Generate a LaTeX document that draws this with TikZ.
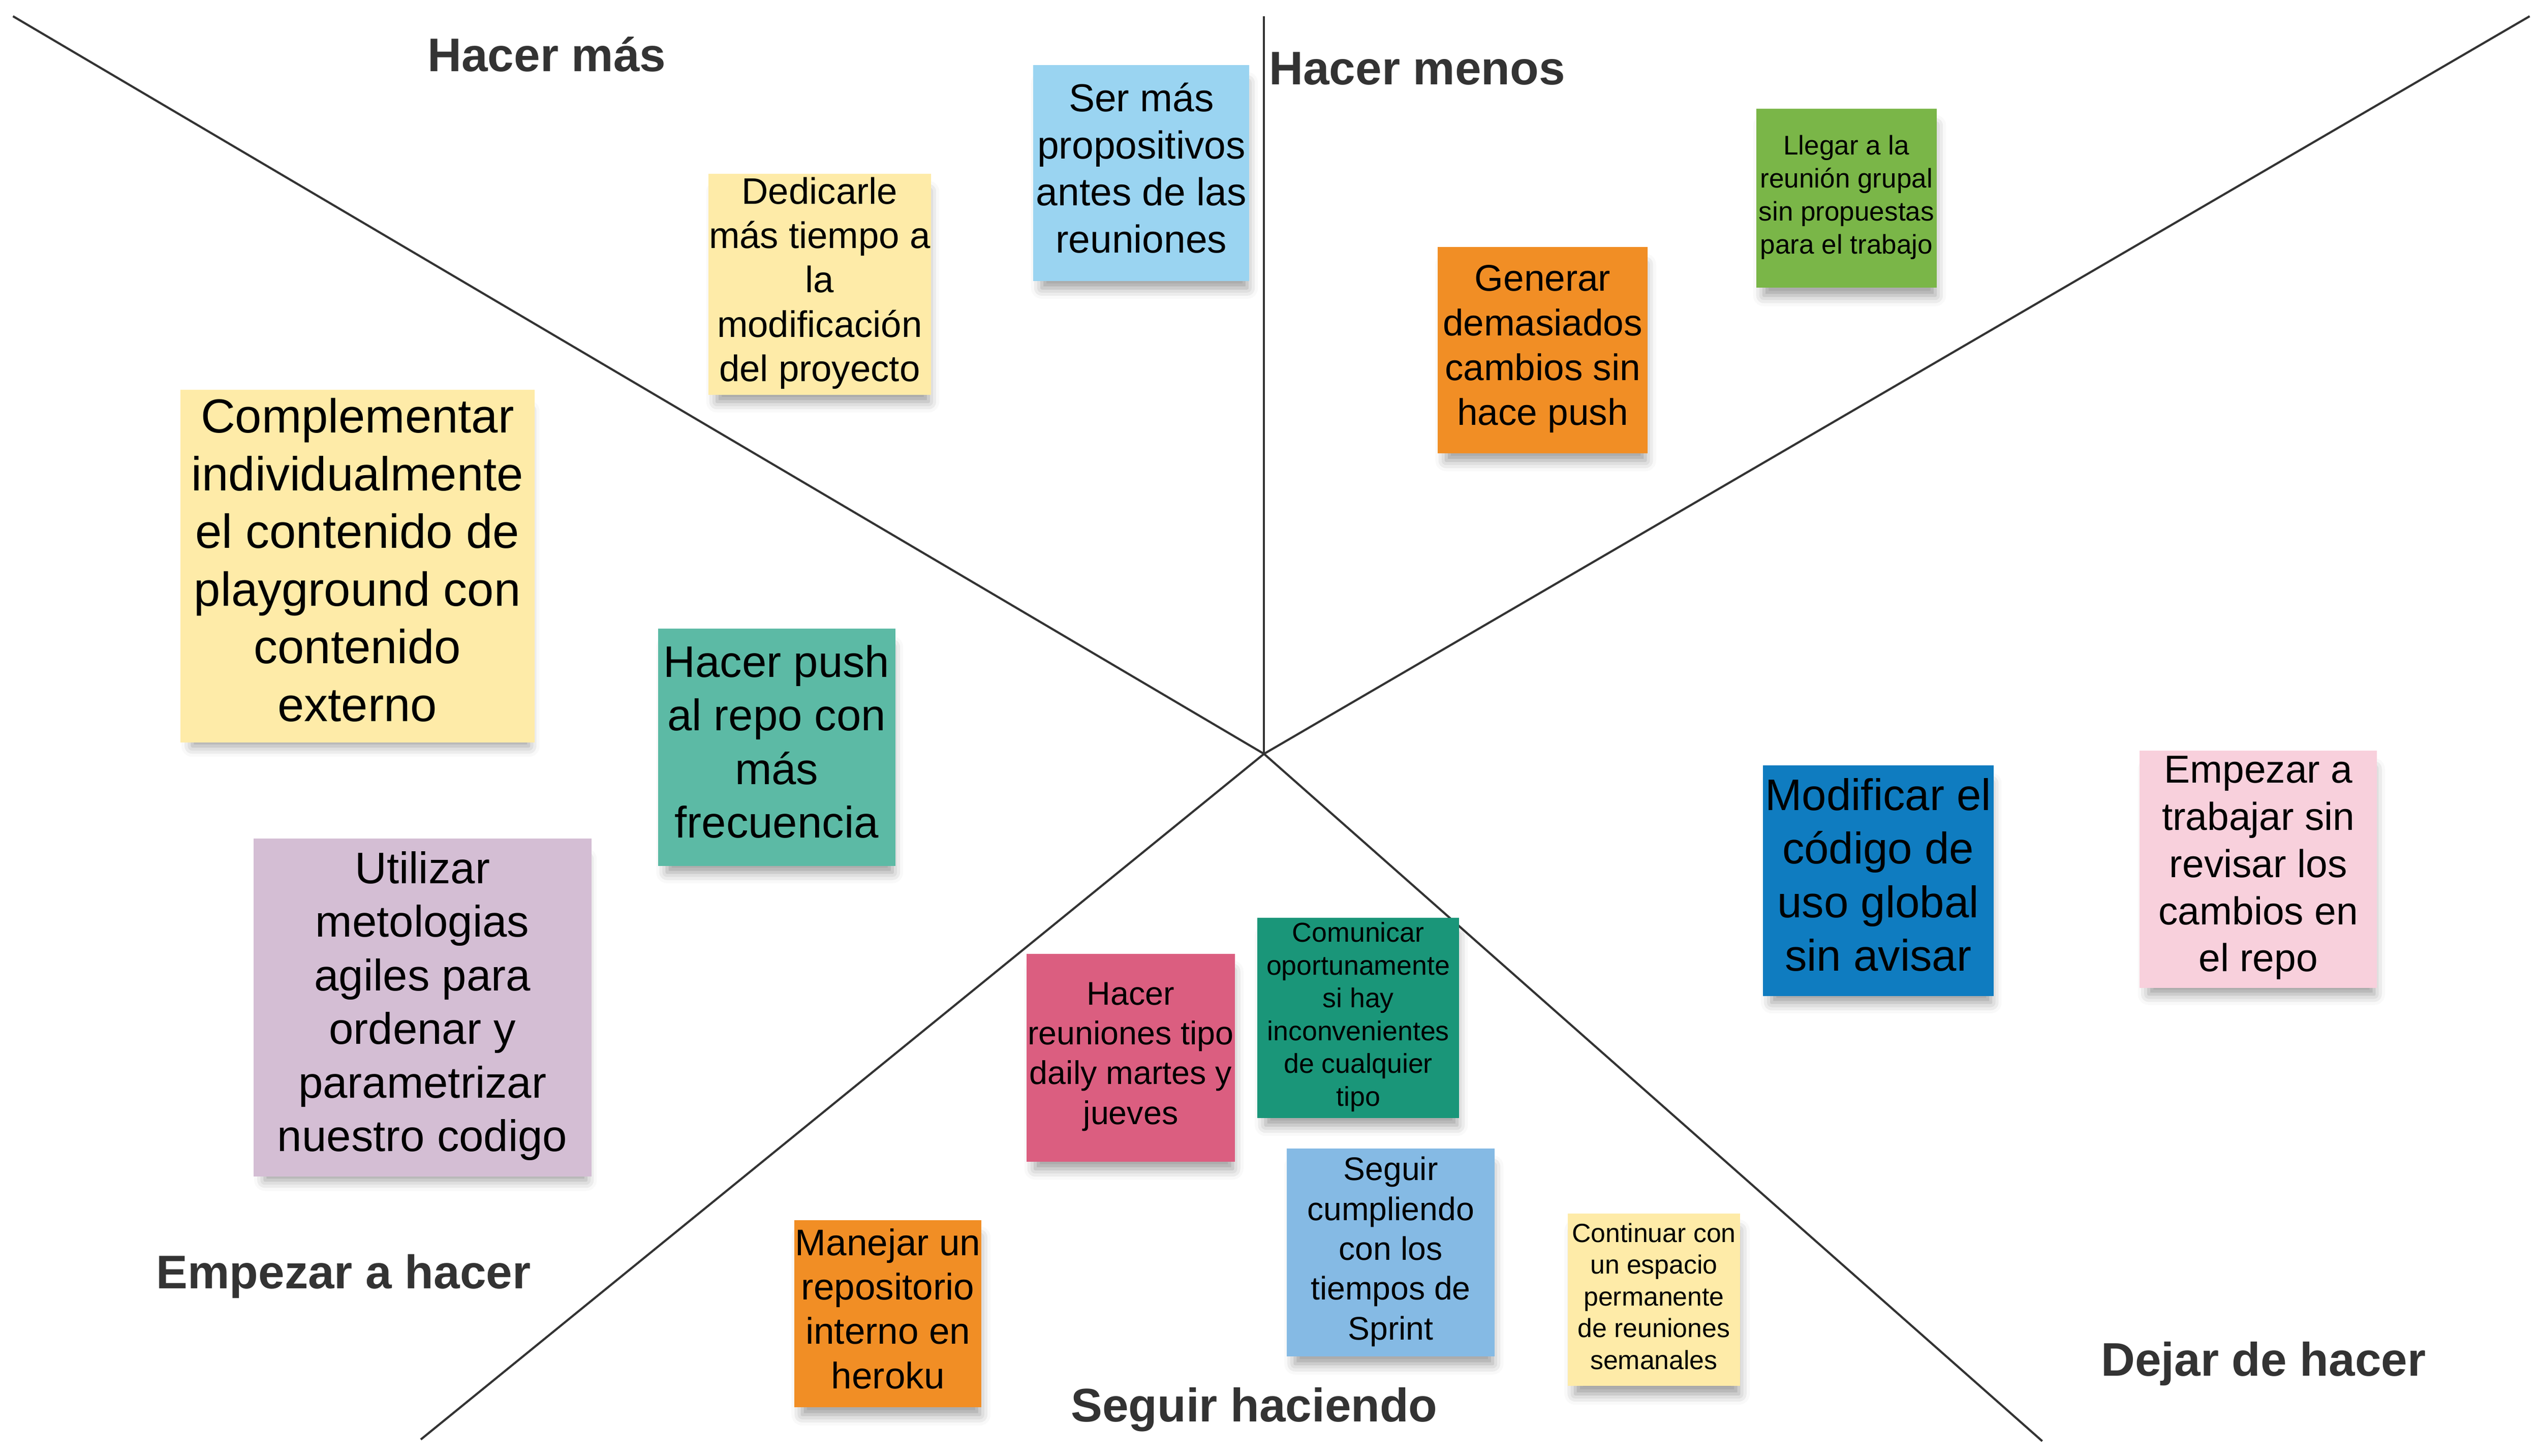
\documentclass[tikz,border=0pt]{standalone}
\usepackage{fontspec}
\setmainfont{Liberation Sans}
\usepackage{xcolor}
\usepackage{tikz}
\usetikzlibrary{shadows.blur, positioning}

\definecolor{noteyellow}{HTML}{FEEBA8}
\definecolor{noteblue}{HTML}{9AD4F1}
\definecolor{noteorange}{HTML}{F18E25}
\definecolor{notegreen}{HTML}{7AB648}
\definecolor{noteteal}{HTML}{5CBAA5}
\definecolor{notelilac}{HTML}{D4BED4}
\definecolor{notedeepblue}{HTML}{0F7CC0}
\definecolor{notepink}{HTML}{F8D0DC}
\definecolor{noterose}{HTML}{DB5E80}
\definecolor{notedeepgreen}{HTML}{1A9679}
\definecolor{notesky}{HTML}{85BAE4}
\definecolor{titlegray}{HTML}{333333}

\begin{document}
\begin{tikzpicture}[
    x=1pt, y=-1pt,
    note/.style={inner sep=0pt, align=center, text=black,
        execute at begin node={\rule{0pt}{0.75em}},
        execute at end node={\rule[-0.27em]{0pt}{0.27em}},
        blur shadow={shadow xshift=2pt, shadow yshift=-8pt, shadow scale=0.95,
                     shadow opacity=40, shadow blur radius=7pt}},
    quadtitle/.style={anchor=base west, inner sep=0pt, text=titlegray,
        font=\fontsize{29}{34}\selectfont\bfseries},
    divider/.style={draw=titlegray, line width=1.3pt}
]
    \useasboundingbox (0,0) rectangle (1564,896);

    % dividing lines
    \coordinate (center) at (778,464);
    \coordinate (top) at (778,10);
    \coordinate (topleft) at (8,10);
    \coordinate (topright) at (1557,10);
    \coordinate (botleft) at (259,886);
    \coordinate (botright) at (1257,887);
    \foreach \endpt in {top, topleft, topright, botleft, botright}
        \draw[divider] (center) -- (\endpt);

    % quadrant titles
    \node[quadtitle] (hacermas) at (263,44) {Hacer más};
    \node[quadtitle] (hacermenos) at (781,52) {Hacer menos};
    \node[quadtitle] (empezar) at (96,793) {Empezar a hacer};
    \node[quadtitle] (seguir) at (659,875) {Seguir haciendo};
    \node[quadtitle] (dejar) at (1293,847) {Dejar de hacer};

    % Hacer mas
    \node[note, fill=noteyellow, minimum width=137pt, minimum height=136pt,
          font=\fontsize{22.7}{27.3}\selectfont] (dedicarle) at (504.5,175)
          {Dedicarle\\más tiempo a\\la\\modificación\\del proyecto};
    \node[note, fill=noteblue, minimum width=133pt, minimum height=133pt,
          font=\fontsize{24}{29}\selectfont] (propositivos) at (702.5,106.5)
          {Ser más\\propositivos\\antes de las\\reuniones};

    % Hacer menos
    \node[note, fill=noteorange, minimum width=129pt, minimum height=127pt,
          font=\fontsize{22.8}{27.5}\selectfont] (generar) at (949.5,215.5)
          {Generar\\demasiados\\cambios sin\\hace push};
    \node[note, fill=notegreen, minimum width=111pt, minimum height=110pt,
          font=\fontsize{16.6}{20.3}\selectfont] (llegar) at (1136.5,122)
          {Llegar a la\\reunión grupal\\sin propuestas\\para el trabajo};

    % Empezar a hacer
    \node[note, fill=noteyellow, minimum width=218pt, minimum height=217pt,
          font=\fontsize{29.4}{35.5}\selectfont] (complementar) at (220,348.5)
          {Complementar\\individualmente\\el contenido de\\playground con\\contenido\\externo};
    \node[note, fill=noteteal, minimum width=146pt, minimum height=146pt,
          font=\fontsize{27.2}{33}\selectfont] (pushrepo) at (478,460)
          {Hacer push\\al repo con\\más\\frecuencia};
    \node[note, fill=notelilac, minimum width=208pt, minimum height=208pt,
          font=\fontsize{27.2}{33}\selectfont] (utilizar) at (260,620)
          {Utilizar\\metologias\\agiles para\\ordenar y\\parametrizar\\nuestro codigo};
    \node[note, fill=noteorange, minimum width=115pt, minimum height=115pt,
          font=\fontsize{22.8}{27.3}\selectfont] (heroku) at (546.5,808.5)
          {Manejar un\\repositorio\\interno en\\heroku};

    % Seguir haciendo
    \node[note, fill=noterose, minimum width=128pt, minimum height=128pt,
          font=\fontsize{20.2}{24.5}\selectfont] (daily) at (696,651)
          {Hacer\\reuniones tipo\\daily martes y\\jueves};
    \node[note, fill=notedeepgreen, minimum width=124pt, minimum height=123pt,
          font=\fontsize{16.8}{20.2}\selectfont] (comunicar) at (836,626.5)
          {Comunicar\\oportunamente\\si hay\\inconvenientes\\de cualquier\\tipo};
    \node[note, fill=notesky, minimum width=128pt, minimum height=128pt,
          font=\fontsize{20.1}{24.5}\selectfont] (sprint) at (856,771)
          {Seguir\\cumpliendo\\con los\\tiempos de\\Sprint};
    \node[note, fill=noteyellow, minimum width=106pt, minimum height=106pt,
          font=\fontsize{16.2}{19.5}\selectfont] (continuar) at (1018,800)
          {Continuar con\\un espacio\\permanente\\de reuniones\\semanales};

    % Dejar de hacer
    \node[note, fill=notedeepblue, minimum width=142pt, minimum height=142pt,
          font=\fontsize{27.2}{33}\selectfont] (modificar) at (1156,542)
          {Modificar el\\código de\\uso global\\sin avisar};
    \node[note, fill=notepink, minimum width=146pt, minimum height=146pt,
          font=\fontsize{24}{29}\selectfont] (revisar) at (1390,535)
          {Empezar a\\trabajar sin\\revisar los\\cambios en\\el repo};

\end{tikzpicture}
\end{document}
